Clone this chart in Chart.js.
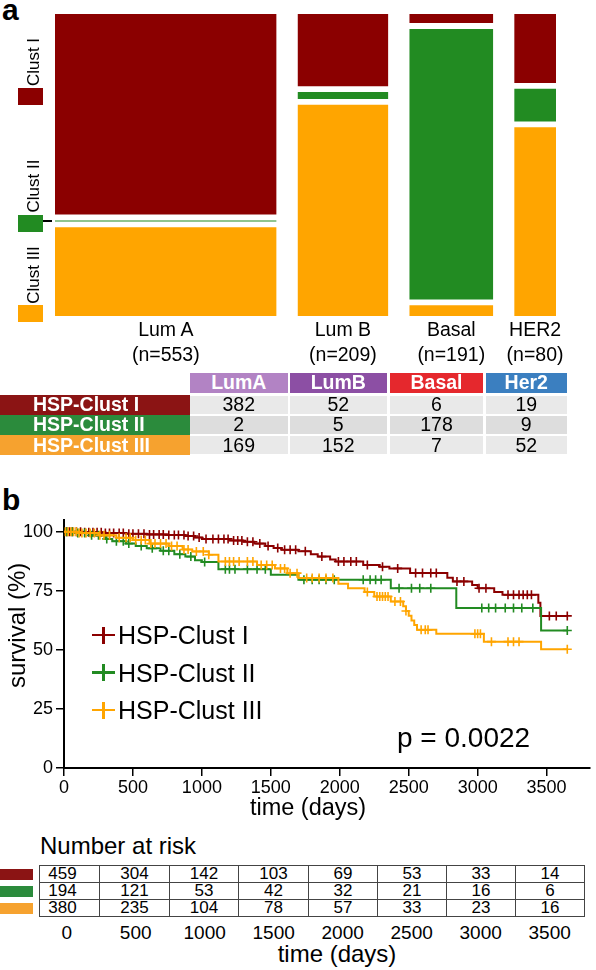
<!DOCTYPE html>
<html>
<head>
<meta charset="utf-8">
<script src="https://cdn.jsdelivr.net/npm/chart.js@4.4.0/dist/chart.umd.min.js"></script>
<style>
  body { margin: 0; width: 596px; height: 970px; position: relative; background: #fff; overflow: hidden;
         font-family: "Liberation Sans", Arial, Helvetica, sans-serif; color: #000; }
  .abs { position: absolute; white-space: nowrap; }
  .cell { position: absolute; display: flex; align-items: center; justify-content: center; font-size: 19.5px; }
  #mosaic { position: absolute; left: 0; top: 0; }
  #km { position: absolute; left: 0; top: 480px; }
  table.risk { position: absolute; left: 39px; top: 865px; border-collapse: collapse; table-layout: fixed; font-size: 17px; }
  table.risk td { border: 1.5px solid #444; height: 16px; padding: 0; line-height: 16px; text-align: center; }
</style>
</head>
<body>
<div class="abs" style="left:2px;top:-7px;font-size:30px;font-weight:bold">a</div>
<div class="abs" style="left:2px;top:483px;font-size:30px;font-weight:bold">b</div>
<canvas id="mosaic" width="596" height="330"></canvas>
<canvas id="km" width="596" height="340"></canvas>
<div id="overlay"></div>

<script>
// panel a: subtype x cluster counts
const subtypes = ['Lum A', 'Lum B', 'Basal', 'HER2'];
const tableSubtypes = ['LumA', 'LumB', 'Basal', 'Her2'];
const subtypeN = [553, 209, 191, 80];
const clusterNames = ['HSP-Clust I', 'HSP-Clust II', 'HSP-Clust III'];
const shortNames = ['Clust I', 'Clust II', 'Clust III'];
const clustI = [382, 52, 6, 19];
const clustII = [2, 5, 178, 9];
const clustIII = [169, 152, 7, 52];

// panel b: Kaplan-Meier steps (days, survival %) and censored times
const timeTicks = [0, 500, 1000, 1500, 2000, 2500, 3000, 3500];
const survTicks = [0, 25, 50, 75, 100];
const kmTimesI = [0, 150, 300, 450, 600, 750, 880, 950, 1000, 1200, 1300, 1380, 1460, 1520, 1580, 1700, 1790, 1840, 1930, 1970, 2170, 2290, 2360, 2510, 2780, 2820, 2960, 3000, 3120, 3180, 3440, 3455, 3650];
const kmSurvI = [100, 99.8, 99.5, 99.2, 98.9, 98.6, 98.2, 97.6, 97.0, 96.3, 95.8, 95.0, 94.0, 93.1, 92.4, 91.8, 90.5, 89.5, 88.3, 87.4, 86.0, 85.2, 84.5, 82.6, 80.5, 79.0, 77.5, 76.1, 74.5, 73.3, 70.0, 64.4, 64.4];
const censorI = [20, 40, 60, 90, 120, 150, 180, 210, 240, 270, 300, 330, 360, 400, 430, 470, 500, 540, 580, 620, 650, 690, 720, 760, 800, 830, 870, 900, 940, 980, 1030, 1080, 1120, 1160, 1190, 1230, 1260, 1290, 1330, 1370, 1420, 1480, 1550, 1600, 1640, 1680, 1750, 1870, 1990, 2030, 2080, 2120, 2200, 2310, 2420, 2550, 2600, 2660, 2700, 2850, 2900, 3010, 3060, 3220, 3260, 3300, 3330, 3360, 3390, 3520, 3570, 3650];
const kmTimesII = [0, 80, 200, 300, 350, 450, 520, 600, 700, 800, 880, 950, 1000, 1120, 1500, 1700, 2370, 2845, 3460, 3650];
const kmSurvII = [100, 99.5, 98.5, 97, 96, 95, 94, 93, 92, 90.5, 89.5, 88, 87.2, 84.2, 81.8, 79.7, 76.1, 67.7, 58.2, 58.2];
const censorII = [20, 60, 100, 150, 200, 250, 310, 380, 430, 470, 560, 640, 720, 760, 840, 920, 1020, 1170, 1200, 1240, 1330, 1400, 1460, 1740, 1800, 1850, 1900, 1960, 2170, 2220, 2260, 2300, 2430, 2520, 2580, 2660, 3030, 3080, 3130, 3200, 3260, 3320, 3400, 3650];
const kmTimesIII = [0, 100, 250, 380, 500, 620, 760, 860, 930, 1050, 1120, 1400, 1530, 1620, 1700, 1990, 2060, 2180, 2250, 2370, 2460, 2480, 2500, 2520, 2540, 2560, 2700, 3045, 3460, 3650];
const kmSurvIII = [100, 99.5, 98.5, 97.5, 96.5, 95, 94, 92.5, 91.7, 90.3, 87.4, 86, 84.5, 82.5, 80.4, 78, 76.1, 74.5, 72.6, 70.5, 68.5, 66.5, 64.5, 62.5, 60.5, 58.5, 56.8, 53.5, 50.3, 50.3];
const censorIII = [10, 30, 50, 70, 90, 110, 130, 160, 190, 220, 260, 290, 330, 400, 450, 480, 520, 560, 590, 630, 660, 700, 740, 780, 820, 870, 900, 960, 1010, 1050, 1170, 1200, 1230, 1270, 1330, 1370, 1430, 1470, 1510, 1570, 1600, 1640, 1690, 1760, 1800, 1850, 1900, 1950, 2200, 2270, 2290, 2310, 2330, 2350, 2400, 2440, 2480, 2590, 2620, 2640, 2980, 3000, 3020, 3100, 3220, 3260, 3300, 3650];

// number at risk
const riskI = [459, 304, 142, 103, 69, 53, 33, 14];
const riskII = [194, 121, 53, 42, 32, 21, 16, 6];
const riskIII = [380, 235, 104, 78, 57, 33, 23, 16];

const plotColors = ['#8b0000', '#228b22', '#ffa500'];
const rowColors = ['#8b1414', '#2b8b3c', '#f6a22f'];
const headColors = ['#b283c4', '#8c4fa4', '#e5282d', '#3b7fc0'];
const cellGrays = ['#e9e9e9', '#dddddd', '#e9e9e9'];

Chart.defaults.font.family = '"Liberation Sans", Arial, Helvetica, sans-serif';
Chart.defaults.color = '#000';

const overlay = document.getElementById('overlay');
function addDiv(style, text, cls) {
  const d = document.createElement('div');
  d.className = cls || 'abs';
  d.setAttribute('style', style);
  if (text !== undefined) d.textContent = text;
  overlay.appendChild(d);
  return d;
}

// ---------- panel a: mosaic ----------
const colPad = 30, colGap = 55, rowGap = 0.02;
let cursor = 0;
const colX = subtypeN.map(n => {
  const x0 = cursor;
  cursor += n + colPad;
  const x1 = cursor;
  cursor += colGap;
  return [x0, x1];
});
const xMax = cursor - colGap;

const mosaicSets = [];
subtypeN.forEach((n, i) => {
  // bottom to top: Clust III, Clust II, Clust I
  const parts = [clustIII[i], clustII[i], clustI[i]];
  const cols = [plotColors[2], plotColors[1], plotColors[0]];
  let base = 0;
  parts.forEach((c, k) => {
    const top = base + c / n;
    mosaicSets.push({
      data: [{ x: colX[i][0], y: top }, { x: colX[i][1], y: top }],
      fill: { value: base },
      backgroundColor: cols[k],
      borderWidth: 0,
      pointRadius: 0
    });
    base = top + rowGap;
  });
});

const mosaic = new Chart(document.getElementById('mosaic'), {
  type: 'line',
  data: { datasets: mosaicSets },
  options: {
    responsive: false,
    animation: false,
    layout: { padding: { left: 55, right: 40, top: 14, bottom: 14 } },
    plugins: { legend: { display: false }, tooltip: { enabled: false } },
    scales: {
      x: { type: 'linear', display: false, min: 0, max: xMax },
      y: { type: 'linear', display: false, min: 0, max: 1 + 2 * rowGap }
    }
  }
});

subtypes.forEach((s, i) => {
  const cx = mosaic.scales.x.getPixelForValue((colX[i][0] + colX[i][1]) / 2);
  addDiv(`left:${cx - 60}px;width:120px;text-align:center;top:317px;font-size:19.5px;line-height:25px`, s);
  addDiv(`left:${cx - 60}px;width:120px;text-align:center;top:342px;font-size:19.5px;line-height:25px`, '(n=' + subtypeN[i] + ')');
});

// left legend of the mosaic
const legSquares = [88, 215, 305];
const legLabelCenters = [62, 186, 275];
shortNames.forEach((s, k) => {
  addDiv(`left:18px;top:${legSquares[k]}px;width:25px;height:17px;background:${plotColors[k]}`);
  addDiv(`left:${34 - 50}px;top:${legLabelCenters[k] - 10}px;width:100px;height:20px;line-height:20px;text-align:center;font-size:17px;transform:rotate(-90deg)`, s);
});
addDiv('left:43px;top:220px;width:9px;height:2px;background:#000');

// count table
const tColLeft = [190, 289.5, 390, 485.5];
const tColW = [97.5, 97.5, 93, 81.5];
tableSubtypes.forEach((s, j) => {
  addDiv(`left:${tColLeft[j]}px;top:372.5px;width:${tColW[j]}px;height:20px;background:${headColors[j]};color:#fff;font-weight:bold`, s, 'cell');
});
const tableRows = [clustI, clustII, clustIII];
clusterNames.forEach((name, r) => {
  const top = 394.5 + 20.3 * r;
  addDiv(`left:0;top:${top}px;width:190px;height:20.3px;background:${rowColors[r]};color:#fff;font-weight:bold;justify-content:flex-start;padding-left:33px;box-sizing:border-box`, name, 'cell');
  tableRows[r].forEach((v, j) => {
    addDiv(`left:${tColLeft[j]}px;top:${top + 1}px;width:${tColW[j]}px;height:18.3px;background:${cellGrays[r]}`, String(v), 'cell');
  });
});

// ---------- panel b: Kaplan-Meier ----------
function stepPoints(times, surv) {
  return times.map((t, i) => ({ x: t, y: surv[i] }));
}
function survAt(times, surv, t) {
  let s = surv[0];
  for (let i = 0; i < times.length; i++) if (times[i] <= t) s = surv[i];
  return s;
}
function censorPoints(times, surv, cens) {
  return cens.map(t => ({ x: t, y: survAt(times, surv, t) }));
}
const groups = [
  [kmTimesI, kmSurvI, censorI],
  [kmTimesII, kmSurvII, censorII],
  [kmTimesIII, kmSurvIII, censorIII]
];
const kmSets = [];
groups.forEach((g, k) => {
  kmSets.push({
    data: stepPoints(g[0], g[1]),
    stepped: true,
    borderColor: plotColors[k],
    borderWidth: 2,
    pointRadius: 0,
    fill: false,
    order: 2 - k
  });
  kmSets.push({
    data: censorPoints(g[0], g[1], g[2]),
    showLine: false,
    pointStyle: 'cross',
    pointRadius: 4.5,
    pointBorderWidth: 1.6,
    pointBorderColor: plotColors[k],
    pointBackgroundColor: plotColors[k],
    order: 2 - k
  });
});

new Chart(document.getElementById('km'), {
  type: 'line',
  data: { datasets: kmSets },
  options: {
    responsive: false,
    animation: false,
    layout: { padding: { top: 40, right: 0, left: 0, bottom: 0 } },
    plugins: { legend: { display: false }, tooltip: { enabled: false } },
    scales: {
      x: {
        type: 'linear', min: 0, max: 3814,
        afterFit: s => { s.height = 52; },
        afterBuildTicks: s => { s.ticks = timeTicks.map(v => ({ value: v })); },
        ticks: { font: { size: 18 }, padding: 1, maxRotation: 0, autoSkip: false, callback: v => String(v) },
        grid: { drawOnChartArea: false, color: '#000', lineWidth: 1.5, tickLength: 8 },
        border: { color: '#000', width: 2 }
      },
      y: {
        type: 'linear', min: 0, max: 105,
        afterFit: s => { s.width = 64; },
        afterBuildTicks: s => { s.ticks = survTicks.map(v => ({ value: v })); },
        ticks: { font: { size: 18 }, padding: 3, autoSkip: false, callback: v => String(v) },
        grid: { drawOnChartArea: false, color: '#000', lineWidth: 1.5, tickLength: 8 },
        border: { color: '#000', width: 2 }
      }
    }
  }
});

addDiv('left:-43px;top:613px;width:120px;height:30px;line-height:30px;text-align:center;font-size:24px;transform:rotate(-90deg)', 'survival (%)');
addDiv('left:208px;top:792px;width:200px;text-align:center;font-size:23.5px;line-height:30px', 'time (days)');
addDiv('left:397px;top:721px;font-size:28px;line-height:34px', 'p = 0.0022');

const kmLegY = [635, 672.5, 710];
clusterNames.forEach((name, k) => {
  const y = kmLegY[k];
  addDiv(`left:92px;top:${y - 1.25}px;width:23px;height:2.5px;background:${plotColors[k]}`);
  addDiv(`left:102.3px;top:${y - 8.5}px;width:2.5px;height:17px;background:${plotColors[k]}`);
  addDiv(`left:118px;top:${y - 15}px;font-size:25px;line-height:30px`, name);
});

// ---------- number at risk ----------
addDiv('left:40px;top:831px;font-size:24px;line-height:30px', 'Number at risk');
const riskRows = [riskI, riskII, riskIII];
const colW = [60, 70, 69, 70, 69, 69, 69, 69];
const tbl = document.createElement('table');
tbl.className = 'risk';
const cg = document.createElement('colgroup');
colW.forEach(w => { const c = document.createElement('col'); c.style.width = w + 'px'; cg.appendChild(c); });
tbl.appendChild(cg);
riskRows.forEach(row => {
  const tr = document.createElement('tr');
  row.forEach((v, j) => {
    const td = document.createElement('td');
    td.textContent = v;
    if (j === 0) td.style.paddingRight = '14px';
    tr.appendChild(td);
  });
  tbl.appendChild(tr);
});
overlay.appendChild(tbl);
const riskBarTops = [869, 886, 902.5];
riskBarTops.forEach((t, k) => addDiv(`left:0;top:${t}px;width:33px;height:11px;background:${rowColors[k]}`));
timeTicks.forEach((t, i) => {
  addDiv(`left:${66.7 + 69 * i - 40}px;width:80px;text-align:center;top:921px;font-size:19px;line-height:24px`, String(t));
});
addDiv('left:237px;top:939px;width:200px;text-align:center;font-size:24px;line-height:30px', 'time (days)');
</script>
</body>
</html>
